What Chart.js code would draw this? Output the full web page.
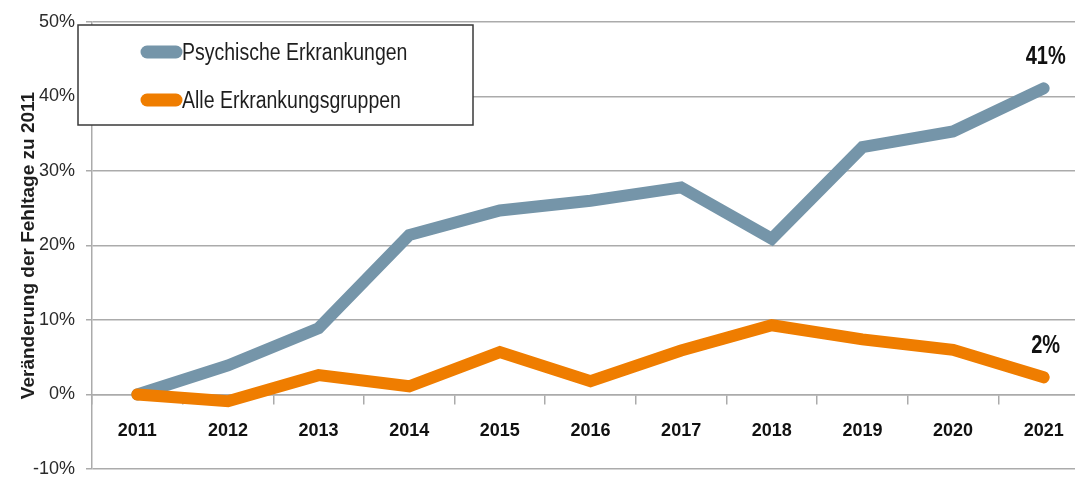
<!DOCTYPE html>
<html>
<head>
<meta charset="utf-8">
<script src="https://cdn.jsdelivr.net/npm/chart.js@4/dist/chart.umd.min.js"></script>
<style>
  html, body { margin: 0; padding: 0; background: #fff; overflow: hidden; }
  #wrap { width: 1090px; height: 478px; position: relative; }
</style>
</head>
<body>
<div id="wrap"><canvas id="c"></canvas></div>
<script>
const years = ['2011','2012','2013','2014','2015','2016','2017','2018','2019','2020','2021'];
const psychische = [0, 3.9, 8.9, 21.4, 24.7, 26.0, 27.8, 20.9, 33.2, 35.3, 41.1];
const alle = [0, -0.9, 2.6, 1.1, 5.7, 1.8, 5.9, 9.3, 7.4, 6.0, 2.3];
const seriesNames = ['Psychische Erkrankungen', 'Alle Erkrankungsgruppen'];
const yTicks = [-10, 0, 10, 20, 30, 40, 50];
const yTitle = 'Veränderung der Fehltage zu 2011';

const GRAY = '#7595a9';
const ORANGE = '#ef7d00';
const GRID = '#ababab';
const FONT = '"Liberation Sans", Arial, sans-serif';
const STRETCH = 1.25;

function tallText(ctx, text, x, y) {
  ctx.save();
  ctx.translate(x, y);
  ctx.scale(1, STRETCH);
  ctx.fillText(text, 0, 0);
  ctx.restore();
}

const legendAndLabels = {
  id: 'legendAndLabels',
  afterDatasetsDraw(chart) {
    const ctx = chart.ctx;
    ctx.save();
    // legend box
    ctx.fillStyle = '#ffffff';
    ctx.fillRect(78, 25, 395, 100);
    ctx.strokeStyle = '#3a3a3a';
    ctx.lineWidth = 1.5;
    ctx.strokeRect(78, 25, 395, 100);
    const rows = [52, 100];
    chart.data.datasets.forEach((ds, i) => {
      const y = rows[i];
      ctx.strokeStyle = ds.borderColor;
      ctx.lineWidth = 13;
      ctx.lineCap = 'round';
      ctx.beginPath();
      ctx.moveTo(147, y);
      ctx.lineTo(176, y);
      ctx.stroke();
      ctx.fillStyle = '#1e1e1e';
      ctx.font = '19.5px ' + FONT;
      ctx.textAlign = 'left';
      ctx.textBaseline = 'middle';
      tallText(ctx, ds.label, 182, y + 1);
    });
    // end value labels
    chart.data.datasets.forEach((ds, i) => {
      const meta = chart.getDatasetMeta(i);
      const last = meta.data[meta.data.length - 1];
      const v = ds.data[ds.data.length - 1];
      ctx.fillStyle = '#111';
      ctx.font = 'bold 20px ' + FONT;
      ctx.textAlign = 'center';
      ctx.textBaseline = 'middle';
      tallText(ctx, Math.round(v) + '%', last.x + 2, last.y - 31);
    });
    ctx.restore();
  }
};

new Chart(document.getElementById('c'), {
  type: 'line',
  data: {
    labels: years,
    datasets: [
      { label: seriesNames[0], data: psychische, borderColor: GRAY, backgroundColor: GRAY,
        borderWidth: 12, pointRadius: 0, tension: 0, borderCapStyle: 'round', borderJoinStyle: 'miter', order: 2 },
      { label: seriesNames[1], data: alle, borderColor: ORANGE, backgroundColor: ORANGE,
        borderWidth: 12, pointRadius: 0, tension: 0, borderCapStyle: 'round', borderJoinStyle: 'miter', order: 1 }
    ]
  },
  options: {
    responsive: true,
    maintainAspectRatio: false,
    animation: false,
    layout: { padding: { left: 0, right: 1, top: 22, bottom: 9 } },
    plugins: { legend: { display: false }, tooltip: { enabled: false } },
    scales: {
      x: {
        position: { y: 0 },
        offset: true,
        grid: { drawOnChartArea: false, drawTicks: true, tickLength: 9, offset: true, color: GRID, lineWidth: 1.5 },
        border: { display: true, color: GRID, width: 1.5 },
        ticks: {
          padding: 17,
          color: '#111',
          font: { family: FONT, size: 18, weight: 'bold' }
        }
      },
      y: {
        min: -10, max: 50,
        afterBuildTicks: s => { s.ticks = yTicks.map(v => ({ value: v })); },
        afterFit: s => { s.width = 92; s.paddingTop = 0; s.paddingBottom = 0; },
        grid: { color: GRID, lineWidth: 1.5, tickLength: 6 },
        border: { display: true, color: GRID, width: 1.5 },
        ticks: {
          padding: 11,
          color: '#2a2a2a',
          font: { family: FONT, size: 18 },
          callback: v => v + '%'
        },
        title: {
          display: true,
          text: yTitle,
          color: '#1e1e1e',
          padding: { top: 17, bottom: 0 },
          font: { family: FONT, size: 19, weight: 'bold' }
        }
      }
    }
  },
  plugins: [legendAndLabels]
});
</script>
</body>
</html>
